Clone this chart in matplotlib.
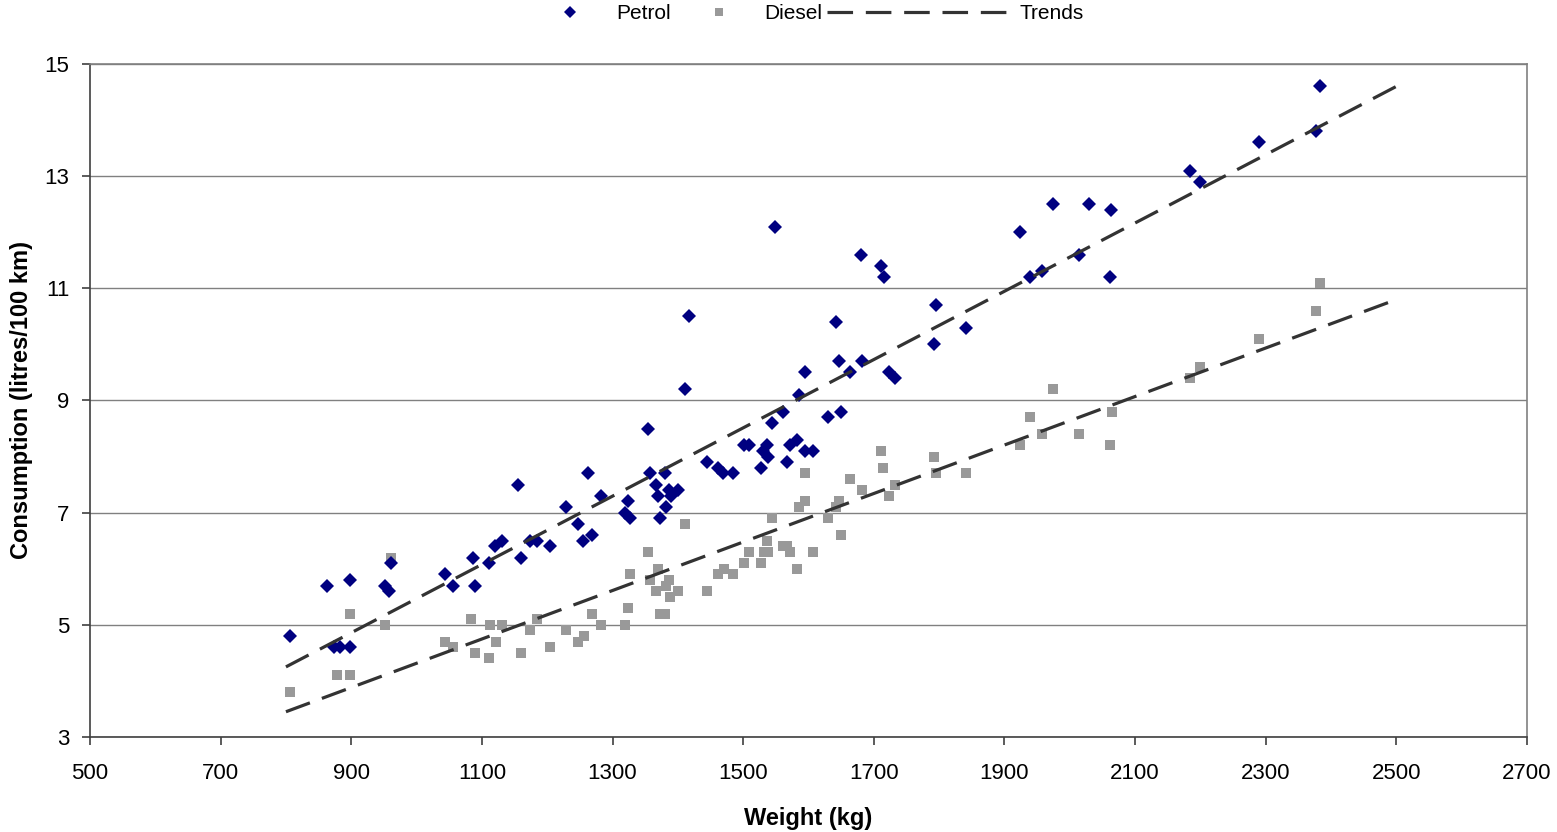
import matplotlib
matplotlib.use('Agg')
import matplotlib.pyplot as plt
from matplotlib.lines import Line2D

plt.rcParams['font.family'] = ['Liberation Sans', 'DejaVu Sans']

# Petrol cars: weight (kg) and consumption (l/100 km)
petrol_w = [806, 863, 874, 883, 898, 898, 952, 958, 961, 1043, 1056, 1086, 1089, 1111,
            1120, 1131, 1155, 1160, 1174, 1184, 1204, 1229, 1247, 1255, 1262, 1269, 1282,
            1319, 1324, 1327, 1354, 1357, 1366, 1369, 1372, 1380, 1382, 1386, 1389, 1400,
            1411, 1417, 1445, 1461, 1469, 1484, 1501, 1509, 1527, 1530, 1536, 1538, 1544,
            1549, 1561, 1567, 1572, 1582, 1585, 1594, 1594, 1607, 1630, 1642, 1647, 1650,
            1664, 1680, 1682, 1711, 1716, 1723, 1732, 1792, 1795, 1841, 1924, 1939, 1957,
            1974, 2014, 2029, 2063, 2062, 2184, 2199, 2290, 2377, 2383]
petrol_c = [4.8, 5.7, 4.6, 4.6, 5.8, 4.6, 5.7, 5.6, 6.1, 5.9, 5.7, 6.2, 5.7, 6.1,
            6.4, 6.5, 7.5, 6.2, 6.5, 6.5, 6.4, 7.1, 6.8, 6.5, 7.7, 6.6, 7.3,
            7.0, 7.2, 6.9, 8.5, 7.7, 7.5, 7.3, 6.9, 7.7, 7.1, 7.4, 7.3, 7.4,
            9.2, 10.5, 7.9, 7.8, 7.7, 7.7, 8.2, 8.2, 7.8, 8.1, 8.2, 8.0, 8.6,
            12.1, 8.8, 7.9, 8.2, 8.3, 9.1, 9.5, 8.1, 8.1, 8.7, 10.4, 9.7, 8.8,
            9.5, 11.6, 9.7, 11.4, 11.2, 9.5, 9.4, 10.0, 10.7, 10.3, 12.0, 11.2, 11.3,
            12.5, 11.6, 12.5, 12.4, 11.2, 13.1, 12.9, 13.6, 13.8, 14.6]

# Diesel cars
diesel_w = [806, 878, 898, 898, 952, 961, 1043, 1056, 1084, 1089, 1111, 1112, 1122, 1131,
            1160, 1173, 1184, 1204, 1229, 1247, 1256, 1269, 1282, 1319, 1324, 1327, 1354,
            1357, 1366, 1369, 1372, 1380, 1382, 1386, 1388, 1400, 1411, 1445, 1461, 1471,
            1484, 1501, 1509, 1527, 1532, 1536, 1538, 1544, 1561, 1567, 1572, 1582, 1585,
            1594, 1594, 1607, 1630, 1642, 1647, 1650, 1664, 1682, 1711, 1714, 1723, 1732,
            1792, 1795, 1841, 1924, 1939, 1957, 1974, 2014, 2062, 2065, 2184, 2199, 2290,
            2377, 2383]
diesel_c = [3.8, 4.1, 4.1, 5.2, 5.0, 6.2, 4.7, 4.6, 5.1, 4.5, 4.4, 5.0, 4.7, 5.0,
            4.5, 4.9, 5.1, 4.6, 4.9, 4.7, 4.8, 5.2, 5.0, 5.0, 5.3, 5.9, 6.3,
            5.8, 5.6, 6.0, 5.2, 5.2, 5.7, 5.8, 5.5, 5.6, 6.8, 5.6, 5.9, 6.0,
            5.9, 6.1, 6.3, 6.1, 6.3, 6.5, 6.3, 6.9, 6.4, 6.4, 6.3, 6.0, 7.1,
            7.7, 7.2, 6.3, 6.9, 7.1, 7.2, 6.6, 7.6, 7.4, 8.1, 7.8, 7.3, 7.5,
            8.0, 7.7, 7.7, 8.2, 8.7, 8.4, 9.2, 8.4, 8.2, 8.8, 9.4, 9.6, 10.1,
            10.6, 11.1]

# Trend lines (endpoints)
trend_w = [800, 2500]
petrol_trend = [4.25, 14.6]
diesel_trend = [3.45, 10.8]

xticks = list(range(500, 2701, 200))
yticks = list(range(3, 16, 2))

fig = plt.figure(figsize=(15.57, 8.32), dpi=100)
ax = fig.add_axes([0.0578, 0.1142, 0.9229, 0.8089])

navy = '#000080'
grey = '#999999'
trend_col = '#333333'

ax.plot(diesel_w, diesel_c, linestyle='none', marker='s', ms=7.2, mew=0, color=grey, zorder=3)
ax.plot(petrol_w, petrol_c, linestyle='none', marker='D', ms=7.6, mew=0, color=navy, zorder=4)
ax.plot(trend_w, petrol_trend, color=trend_col, lw=2.3, dashes=(8, 4), zorder=5)
ax.plot(trend_w, diesel_trend, color=trend_col, lw=2.3, dashes=(8, 4), zorder=5)

ax.set_xlim(500, 2700)
ax.set_ylim(3, 15)
ax.set_xticks(xticks)
ax.set_yticks(yticks)
ax.tick_params(labelsize=16, direction='out', length=6, width=1.2, color='#404040')
ax.tick_params(axis='y', pad=9)
ax.tick_params(axis='x', pad=13)
ax.grid(True, axis='y', color='#808080', lw=1)
ax.set_axisbelow(True)
for s in ax.spines.values():
    s.set_color('#808080')
    s.set_linewidth(1.2)
ax.spines['left'].set_color('#404040')
ax.spines['bottom'].set_color('#404040')

ax.set_xlabel('Weight (kg)', fontsize=17, fontweight='bold', labelpad=16)
ax.set_ylabel('Consumption (litres/100 km)', fontsize=17, fontweight='bold', labelpad=8)

# Legend: two pieces so the trend line can be long
h1 = [Line2D([], [], linestyle='none', marker='D', ms=6.5, mew=0, color=navy),
      Line2D([], [], linestyle='none', marker='s', ms=6, mew=0, color=grey)]
fig.legend(h1, ['Petrol', 'Diesel'], loc='center left', bbox_to_anchor=(0.3515, 0.984),
           ncol=2, frameon=False, fontsize=15, handlelength=2.2, handletextpad=1.1,
           columnspacing=1.2, borderpad=0, borderaxespad=0)
h2 = [Line2D([], [], color=trend_col, lw=2.3, dashes=(8, 4))]
fig.legend(h2, ['Trends'], loc='center left', bbox_to_anchor=(0.531, 0.984),
           frameon=False, fontsize=15, handlelength=8.9, handletextpad=0.35,
           borderpad=0, borderaxespad=0)

fig.savefig('out.png', dpi=100)
